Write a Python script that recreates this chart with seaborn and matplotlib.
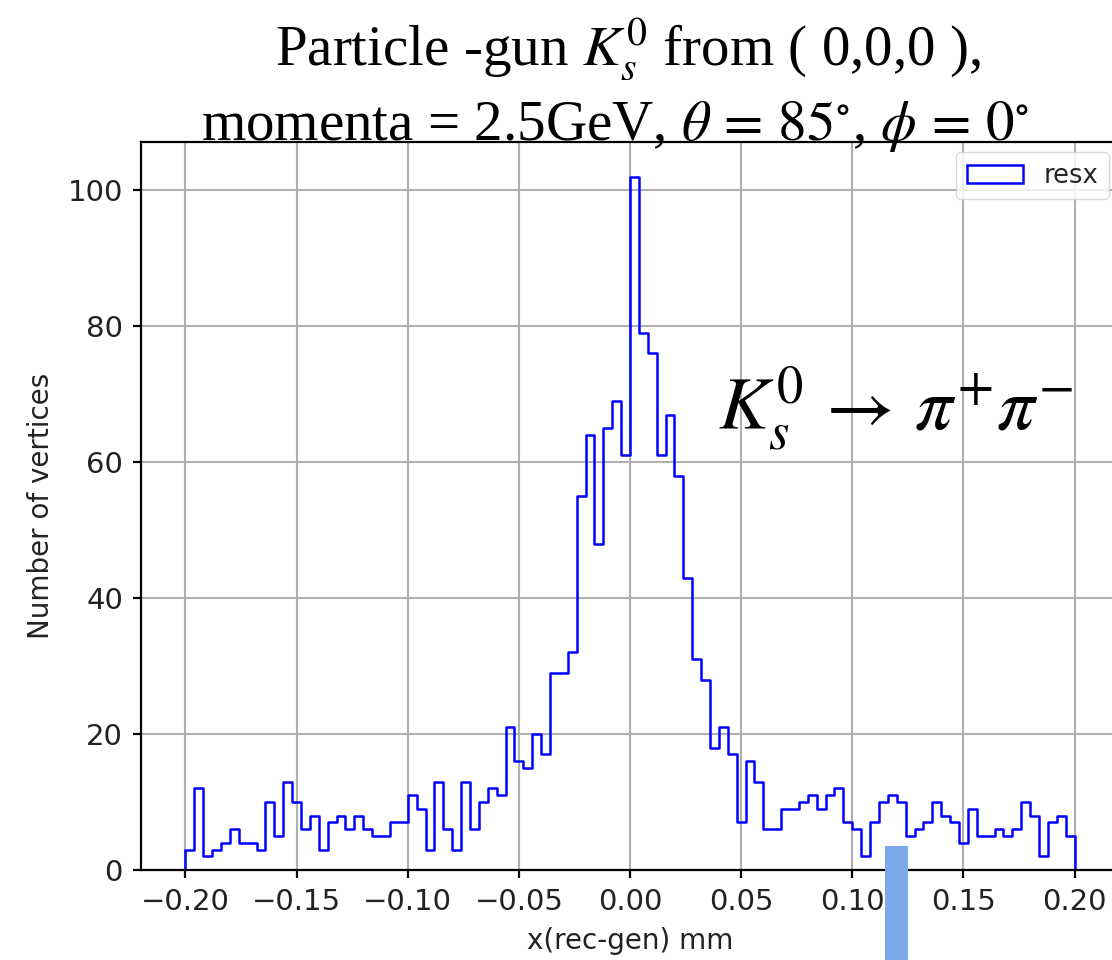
import numpy as np
import pandas as pd
import matplotlib
matplotlib.use("Agg")
import matplotlib.pyplot as plt
from matplotlib.patches import Patch, Rectangle
import seaborn as sns

# ---- data ----
bin_lo = -0.2
bin_hi = 0.2
n_bins = 100
counts = [3, 12, 2, 3, 4, 6, 4, 4, 3, 10,
          5, 13, 10, 6, 8, 3, 7, 8, 6, 8,
          6, 5, 5, 7, 7, 11, 9, 3, 13, 6,
          3, 13, 6, 10, 12, 11, 21, 16, 15, 20,
          17, 29, 29, 32, 55, 64, 48, 65, 69, 61,
          102, 79, 76, 61, 67, 58, 43, 31, 28, 18,
          21, 17, 7, 16, 13, 6, 6, 9, 9, 10,
          11, 9, 11, 12, 7, 6, 2, 7, 10, 11,
          10, 5, 6, 7, 10, 8, 7, 4, 9, 5,
          5, 6, 5, 6, 10, 8, 2, 7, 8, 5]
x_ticks = [-0.20, -0.15, -0.10, -0.05, 0.00, 0.05, 0.10, 0.15, 0.20]
y_ticks = [0, 20, 40, 60, 80, 100]
series_label = "resx"
x_label = "x(rec-gen) mm"
y_label = "Number of vertices"
title_line1 = "Particle -gun $K_s^0$ from ( 0,0,0 ),"
title_line2 = "momenta = 2.5GeV, $\\theta\\,=\\,85^{\\circ}$, $\\phi\\,=\\,0^{\\circ}$"
decay_text = "$K_s^0\\,\\rightarrow\\,\\pi^{+}\\pi^{-}$"

edges = np.linspace(bin_lo, bin_hi, n_bins + 1)
centers = 0.5 * (edges[:-1] + edges[1:])
df = pd.DataFrame({"x": centers, "w": counts})

sns.set_style("ticks")
plt.rcParams["font.family"] = ["DejaVu Sans"]
plt.rcParams["mathtext.fontset"] = "stix"

fig = plt.figure(figsize=(11.12, 9.6), dpi=100)
ax = fig.add_axes([141 / 1112, 90 / 960, 978 / 1112, 728 / 960])

sns.histplot(data=df, x="x", weights="w", bins=list(edges), element="step",
             fill=False, color="blue", linewidth=1.8, ax=ax)
# close the outline down to zero at both ends, like a step histogram
ax.vlines([edges[0], edges[-1]], 0, [counts[0], counts[-1]], color="blue", linewidth=1.8)

ax.set_xlim(-0.22, 0.22)
ax.set_ylim(0, 107.1)
ax.set_xticks(x_ticks)
ax.set_yticks(y_ticks)
ax.set_xticklabels([f"{t:.2f}".replace("-", "\u2212") for t in x_ticks])
ax.grid(True, color="#b0b0b0", linewidth=1.5)
ax.set_axisbelow(True)
for s in ax.spines.values():
    s.set_color("black")
    s.set_linewidth(1.6)
ax.tick_params(axis="both", labelsize=21, length=6, width=1.6, color="black",
               labelcolor="#222222", direction="out", pad=7)
ax.set_xlabel(x_label, fontsize=20, color="#222222", labelpad=8)
ax.set_ylabel(y_label, fontsize=20, color="#222222", labelpad=9)

leg = ax.legend(handles=[Patch(facecolor="none", edgecolor="blue", linewidth=1.8, label=series_label)],
                loc="upper right", fontsize=18.5, frameon=True, fancybox=True,
                borderaxespad=0.4, handlelength=2.2)
leg.get_frame().set_edgecolor("#d0d0d0")

ax.text(0.0394, 64.7, decay_text, fontsize=54, color="black", va="baseline", ha="left",
        family=["Liberation Serif"])

fig.text(628, 960 - 65, title_line1, transform=None,
         fontsize=41, ha="center", va="baseline", family=["Liberation Serif"], color="black")
fig.text(615, 960 - 140, title_line2, transform=None,
         fontsize=41, ha="center", va="baseline", family=["Liberation Serif"], color="black")

fig.patches.append(Rectangle((885 / 1112, 0), 23 / 1112, 114 / 960, transform=fig.transFigure,
                             facecolor="#7aaaea", edgecolor="none", zorder=10))

fig.savefig("out.png", dpi=100)
